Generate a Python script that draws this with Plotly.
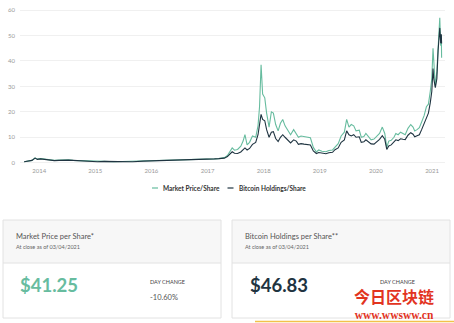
import plotly.graph_objects as go

# ---- data ----
dates = [
    "2013-09-25", "2013-10-20", "2013-11-15", "2013-12-05", "2013-12-20",
    "2014-01-10", "2014-02-10", "2014-03-10", "2014-04-10", "2014-05-10",
    "2014-06-10", "2014-07-10", "2014-08-10", "2014-09-10", "2014-10-10",
    "2014-11-10", "2014-12-10", "2015-01-15", "2015-03-01", "2015-05-01",
    "2015-07-01", "2015-09-01", "2015-11-10", "2016-01-10", "2016-03-01",
    "2016-05-01", "2016-06-20", "2016-08-01", "2016-10-01", "2016-12-01",
    "2017-01-05", "2017-02-15", "2017-03-15", "2017-04-20", "2017-05-10",
    "2017-05-25", "2017-06-10", "2017-06-25", "2017-07-15", "2017-08-05",
    "2017-08-20", "2017-09-01", "2017-09-15", "2017-10-01", "2017-10-20",
    "2017-11-10", "2017-11-25", "2017-12-05", "2017-12-15", "2017-12-25",
    "2018-01-08", "2018-01-20", "2018-02-05", "2018-02-20", "2018-03-05",
    "2018-03-20", "2018-04-05", "2018-04-20", "2018-05-05", "2018-05-20",
    "2018-06-10", "2018-06-25", "2018-07-15", "2018-08-01", "2018-08-15",
    "2018-09-01", "2018-09-20", "2018-10-10", "2018-11-01", "2018-11-20",
    "2018-12-10", "2018-12-25", "2019-01-15", "2019-02-10", "2019-03-01",
    "2019-03-25", "2019-04-10", "2019-05-01", "2019-05-20", "2019-06-10",
    "2019-06-25", "2019-07-10", "2019-07-25", "2019-08-10", "2019-08-25",
    "2019-09-15", "2019-09-28", "2019-10-15", "2019-10-28", "2019-11-15",
    "2019-12-01", "2019-12-20", "2020-01-10", "2020-01-25", "2020-02-12",
    "2020-02-28", "2020-03-12", "2020-03-25", "2020-04-10", "2020-04-28",
    "2020-05-10", "2020-05-25", "2020-06-10", "2020-06-25", "2020-07-10",
    "2020-07-28", "2020-08-15", "2020-08-30", "2020-09-10", "2020-09-25",
    "2020-10-10", "2020-10-25", "2020-11-10", "2020-11-25", "2020-12-08",
    "2020-12-20", "2020-12-30", "2021-01-07", "2021-01-12", "2021-01-22",
    "2021-02-01", "2021-02-09", "2021-02-15", "2021-02-20", "2021-02-26",
    "2021-03-02", "2021-03-04",
]
market_price = [
    0.4, 0.5, 0.9, 1.9, 1.4,
    1.6, 1.3, 1.1, 0.9, 1.0,
    1.2, 1.1, 0.9, 0.8, 0.7,
    0.7, 0.6, 0.4, 0.5, 0.4,
    0.5, 0.4, 0.6, 0.7, 0.7,
    0.8, 1.1, 0.9, 1.0, 1.2,
    1.4, 1.5, 1.6, 2.0, 2.8,
    4.5, 5.8, 4.9, 5.2, 6.5,
    8.5, 11.0, 7.0, 8.0, 10.5,
    10.0, 14.5, 22.0, 38.5, 27.0,
    25.5, 19.5, 14.0, 20.0, 19.5,
    15.0, 12.5, 15.5, 17.0, 14.5,
    12.5, 11.0, 13.0, 11.5, 10.0,
    10.5, 10.2, 10.0, 9.8, 6.0,
    4.2, 5.0, 4.5, 4.3, 4.8,
    5.0, 6.2, 7.5, 10.5, 12.0,
    17.0, 14.0, 15.0, 14.5, 12.5,
    12.8, 10.0, 10.3, 11.5, 10.0,
    9.0, 9.3, 10.5, 11.5, 14.0,
    11.5, 6.0, 8.5, 8.8, 10.0,
    11.5, 11.0, 12.0, 11.5, 11.0,
    13.5, 15.0, 14.0, 12.5, 13.0,
    13.8, 16.0, 18.5, 22.0, 23.0,
    28.0, 33.0, 45.0, 38.0, 30.0,
    36.0, 47.0, 51.0, 57.0, 46.0,
    50.0, 41.25,
]
btc_holdings = [
    0.4, 0.5, 0.9, 1.8, 1.3,
    1.5, 1.2, 1.0, 0.8, 0.9,
    1.1, 1.0, 0.9, 0.8, 0.6,
    0.6, 0.6, 0.4, 0.5, 0.4,
    0.5, 0.4, 0.6, 0.7, 0.7,
    0.8, 1.0, 0.9, 1.0, 1.2,
    1.3, 1.5, 1.6, 1.8, 2.4,
    3.4, 4.3, 3.7, 3.6, 4.2,
    5.0, 5.8, 5.0, 5.6, 7.2,
    8.0, 11.0, 15.5, 19.0, 17.0,
    16.5, 13.0, 10.0, 12.0, 12.2,
    9.5, 8.3, 10.0, 11.0, 10.0,
    8.5, 7.8, 9.0, 8.5, 7.2,
    7.5, 7.3, 7.2, 7.0, 4.6,
    3.6, 4.0, 3.7, 3.5, 3.9,
    4.1, 5.1, 5.8, 8.0, 9.0,
    12.5, 11.0, 10.5, 11.0, 10.0,
    10.2, 8.0, 8.2, 9.0, 8.0,
    7.4, 7.3, 8.2, 9.2, 10.6,
    9.2, 5.2, 6.6, 7.0, 8.2,
    9.0, 8.7, 9.4, 9.2, 9.1,
    10.8, 11.8, 11.2, 10.2, 10.6,
    11.0, 13.0, 15.5, 18.0, 19.5,
    23.5, 28.0, 37.0, 33.0, 29.5,
    33.0, 44.0, 48.0, 53.0, 47.0,
    50.5, 46.83,
]
series_names = ["Market Price/Share", "Bitcoin Holdings/Share"]
y_ticks = [0, 10, 20, 30, 40, 50, 60]

TEAL = "#67bc9f"
DARK = "#1f3441"

W, H = 454, 323
L, R, T, B = 20, 445, 4, 166  # plot area in pixels


def px(x):
    return (x - L) / (R - L)


def py(y):
    return (B - y) / (B - T)


fig = go.Figure()
fig.add_trace(go.Scatter(x=dates, y=market_price, mode="lines", name=series_names[0],
                         line=dict(color=TEAL, width=1.1), showlegend=False))
fig.add_trace(go.Scatter(x=dates, y=btc_holdings, mode="lines", name=series_names[1],
                         line=dict(color=DARK, width=1.1), showlegend=False))

fig.update_layout(
    width=W, height=H,
    margin=dict(l=L, r=W - R, t=T, b=H - B),
    paper_bgcolor="white", plot_bgcolor="white",
    font=dict(family="Lato, Open Sans, sans-serif", color="#999"),
    xaxis=dict(range=["2013-08-29", "2021-03-26"], dtick="M12", tickformat="%Y",
               tick0="2014-01-01", showgrid=False, zeroline=False, showline=False,
               tickfont=dict(size=6, color="#999"), ticks="", ticklabelstandoff=0),
    yaxis=dict(range=[-1.3, 62.4], tickvals=y_ticks, showgrid=True, gridcolor="#f0f0f0",
               gridwidth=1, zeroline=False, showline=False,
               tickfont=dict(size=6, color="#999"), ticks="", ticklabelstandoff=4),
)

shapes = []
ann = []

# legend
for x0, col, name, tx in [(152, TEAL, series_names[0], 160.5), (227.5, DARK, series_names[1], 236.5)]:
    shapes.append(dict(type="line", xref="paper", yref="paper", x0=px(x0), x1=px(x0 + 6),
                       y0=py(188), y1=py(188), line=dict(color=col, width=1.2)))
    ann.append(dict(xref="paper", yref="paper", x=px(tx), y=py(188), xanchor="left", yanchor="middle",
                    text="<b>" + name + "</b>", showarrow=False,
                    font=dict(size=6.5, color="#333", family="Lato, sans-serif")))

# cards
for cx0, cx1 in [(3, 221), (232, 450)]:
    shapes.append(dict(type="rect", xref="paper", yref="paper", x0=px(cx0), x1=px(cx1),
                       y0=py(263), y1=py(220), fillcolor="#f7f7f7", line=dict(width=0), layer="below"))
    shapes.append(dict(type="rect", xref="paper", yref="paper", x0=px(cx0), x1=px(cx1),
                       y0=py(318), y1=py(220), fillcolor="rgba(0,0,0,0)",
                       line=dict(color="#e2e2e2", width=1)))
    shapes.append(dict(type="line", xref="paper", yref="paper", x0=px(cx0), x1=px(cx1),
                       y0=py(263), y1=py(263), line=dict(color="#e2e2e2", width=1)))

cards = [
    (14, "Market Price per Share*", 18, "$41.25", TEAL, 148),
    (243, "Bitcoin Holdings per Share**", 247.5, "$46.83", DARK, 378),
]
for tx, title, vx, val, vcol, dx in cards:
    ann.append(dict(xref="paper", yref="paper", x=px(tx), y=py(236.5), xanchor="left", yanchor="middle",
                    text=title, showarrow=False, font=dict(size=7.5, color="#555")))
    ann.append(dict(xref="paper", yref="paper", x=px(tx), y=py(247), xanchor="left", yanchor="middle",
                    text="At close as of 03/04/2021", showarrow=False, font=dict(size=5.5, color="#666")))
    ann.append(dict(xref="paper", yref="paper", x=px(vx), y=py(285), xanchor="left", yanchor="middle",
                    text="<b>" + val + "</b>", showarrow=False, font=dict(size=18.5, color=vcol)))
    ann.append(dict(xref="paper", yref="paper", x=px(dx), y=py(281.5), xanchor="left", yanchor="middle",
                    text="DAY CHANGE", showarrow=False, font=dict(size=5.5, color="#444")))

ann.append(dict(xref="paper", yref="paper", x=px(148), y=py(297), xanchor="left", yanchor="middle",
                text="-10.60%", showarrow=False, font=dict(size=7.5, color="#555")))

# watermark (both lines in one text block)
ann.append(dict(xref="paper", yref="paper", x=px(393.5), y=py(302.5), xanchor="center", yanchor="middle",
                text=("<b><span style='font-family:Noto Sans CJK SC;font-size:16px'>今日区块链</span>"
                      "<br><span style='font-family:Liberation Serif;font-size:11.5px'>www.wwsww.cn</span></b>"),
                showarrow=False, font=dict(size=12.5, color="#e2341f", family="Noto Sans CJK SC")))
shapes.append(dict(type="line", xref="paper", yref="paper", x0=px(255), x1=px(454),
                   y0=py(321.5), y1=py(321.5), line=dict(color="#f2c14a", width=1.5)))

fig.update_layout(shapes=shapes, annotations=ann)
fig.write_html("out.html")
